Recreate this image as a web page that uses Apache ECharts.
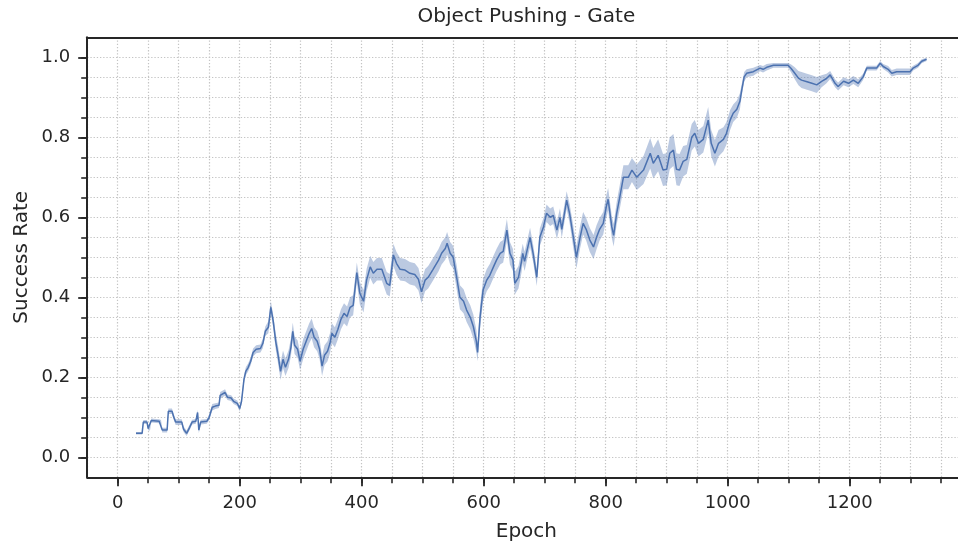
<!DOCTYPE html>
<html>
<head>
<meta charset="utf-8">
<script src="https://cdn.jsdelivr.net/npm/echarts@6/dist/echarts.min.js"></script>
<style>
  html, body { margin: 0; padding: 0; background: #ffffff; }
  #chart { width: 958px; height: 545px; }
</style>
</head>
<body>
<div id="chart"></div>
<script>
// Training curve: mean success rate per epoch with a shaded spread band.
const epochs = [
  30, 40, 42, 48, 50, 53, 55, 68, 71, 73, 81, 83, 89, 92, 95, 105, 108, 113, 118, 122,
  128, 131, 133, 136, 146, 150, 155, 160, 166, 168, 176, 180, 186, 190, 196, 200, 203, 207, 210, 214,
  218, 222, 227, 234, 238, 242, 247, 251, 255, 259, 263, 267, 271, 275, 280, 284, 287, 290, 295, 299,
  304, 309, 314, 318, 322, 327, 331, 335, 339, 344, 348, 351, 356, 361, 366, 371, 376, 381, 386, 392,
  397, 403, 408, 414, 419, 425, 433, 441, 446, 452, 457, 463, 471, 479, 487, 493, 498, 504, 509, 517,
  526, 531, 537, 540, 545, 550, 556, 561, 567, 572, 578, 583, 588, 590, 594, 599, 605, 610, 616, 621,
  627, 632, 638, 643, 648, 651, 657, 662, 664, 667, 676, 681, 687, 692, 698, 703, 709, 714, 720, 725,
  728, 736, 741, 747, 752, 758, 763, 768, 774, 780, 785, 790, 796, 801, 804, 810, 813, 818, 823, 829,
  837, 843, 851, 862, 873, 878, 886, 894, 900, 905, 911, 916, 921, 927, 933, 941, 946, 952, 960, 968,
  973, 979, 985, 993, 998, 1004, 1009, 1015, 1020, 1023, 1027, 1031, 1042, 1053, 1058, 1064, 1075, 1099, 1104, 1110,
  1116, 1121, 1130, 1138, 1146, 1154, 1162, 1168, 1176, 1181, 1190, 1198, 1206, 1214, 1222, 1228, 1244, 1250, 1255, 1263,
  1269, 1277, 1299, 1304, 1312, 1318, 1326
];

const meanRate = [
  0.060, 0.060, 0.088, 0.088, 0.072, 0.072, 0.092, 0.090, 0.088, 0.068, 0.068, 0.115, 0.115, 0.100, 0.088, 0.088, 0.070, 0.060, 0.075, 0.088,
  0.090, 0.112, 0.068, 0.088, 0.090, 0.100, 0.125, 0.128, 0.130, 0.155, 0.162, 0.150, 0.148, 0.140, 0.135, 0.122, 0.140, 0.195, 0.215, 0.225,
  0.240, 0.262, 0.270, 0.272, 0.285, 0.315, 0.325, 0.375, 0.340, 0.290, 0.255, 0.215, 0.245, 0.225, 0.245, 0.275, 0.315, 0.280, 0.270, 0.240,
  0.270, 0.290, 0.310, 0.322, 0.300, 0.290, 0.270, 0.228, 0.255, 0.265, 0.285, 0.310, 0.300, 0.320, 0.345, 0.360, 0.352, 0.375, 0.380, 0.462,
  0.410, 0.390, 0.443, 0.476, 0.460, 0.470, 0.470, 0.435, 0.430, 0.506, 0.485, 0.470, 0.468, 0.460, 0.457, 0.445, 0.414, 0.443, 0.450, 0.470,
  0.493, 0.510, 0.522, 0.535, 0.510, 0.500, 0.447, 0.400, 0.390, 0.368, 0.350, 0.327, 0.290, 0.262, 0.350, 0.418, 0.443, 0.455, 0.476, 0.493,
  0.510, 0.515, 0.568, 0.510, 0.493, 0.435, 0.450, 0.490, 0.510, 0.490, 0.550, 0.510, 0.450, 0.550, 0.576, 0.610, 0.600, 0.605, 0.568, 0.600,
  0.570, 0.643, 0.608, 0.550, 0.500, 0.550, 0.585, 0.570, 0.543, 0.526, 0.550, 0.570, 0.585, 0.627, 0.645, 0.576, 0.555, 0.610, 0.650, 0.700,
  0.700, 0.718, 0.700, 0.718, 0.760, 0.735, 0.755, 0.718, 0.720, 0.760, 0.768, 0.720, 0.718, 0.740, 0.745, 0.800, 0.810, 0.785, 0.795, 0.843,
  0.785, 0.760, 0.785, 0.795, 0.810, 0.843, 0.860, 0.870, 0.890, 0.918, 0.951, 0.960, 0.964, 0.973, 0.970, 0.975, 0.980, 0.980, 0.972, 0.960,
  0.948, 0.943, 0.939, 0.935, 0.931, 0.940, 0.947, 0.956, 0.935, 0.927, 0.940, 0.935, 0.943, 0.935, 0.951, 0.973, 0.973, 0.985, 0.977, 0.970,
  0.960, 0.964, 0.964, 0.973, 0.980, 0.990, 0.995
];

// Half-width of the shaded band around the mean.
const spread = [
  0.003, 0.003, 0.005, 0.005, 0.005, 0.005, 0.005, 0.005, 0.005, 0.006, 0.006, 0.007, 0.007, 0.007, 0.007, 0.007, 0.007, 0.007, 0.007, 0.006,
  0.006, 0.006, 0.008, 0.006, 0.006, 0.007, 0.008, 0.007, 0.007, 0.008, 0.008, 0.007, 0.007, 0.007, 0.007, 0.007, 0.008, 0.010, 0.010, 0.010,
  0.010, 0.010, 0.010, 0.010, 0.012, 0.012, 0.015, 0.016, 0.016, 0.020, 0.022, 0.022, 0.022, 0.022, 0.022, 0.022, 0.022, 0.022, 0.022, 0.022,
  0.025, 0.025, 0.025, 0.025, 0.025, 0.025, 0.025, 0.025, 0.025, 0.025, 0.025, 0.025, 0.025, 0.025, 0.025, 0.025, 0.025, 0.025, 0.025, 0.025,
  0.028, 0.028, 0.028, 0.028, 0.028, 0.028, 0.028, 0.028, 0.028, 0.028, 0.028, 0.028, 0.028, 0.028, 0.028, 0.028, 0.028, 0.028, 0.028, 0.028,
  0.028, 0.028, 0.028, 0.028, 0.028, 0.028, 0.030, 0.030, 0.030, 0.030, 0.030, 0.030, 0.028, 0.022, 0.028, 0.028, 0.028, 0.028, 0.028, 0.028,
  0.028, 0.028, 0.028, 0.028, 0.028, 0.028, 0.028, 0.028, 0.024, 0.024, 0.024, 0.022, 0.022, 0.022, 0.022, 0.022, 0.022, 0.022, 0.022, 0.022,
  0.022, 0.022, 0.024, 0.028, 0.028, 0.028, 0.028, 0.028, 0.030, 0.030, 0.030, 0.028, 0.028, 0.028, 0.028, 0.028, 0.028, 0.028, 0.030, 0.030,
  0.030, 0.030, 0.032, 0.035, 0.038, 0.038, 0.040, 0.040, 0.040, 0.040, 0.040, 0.040, 0.040, 0.038, 0.036, 0.033, 0.033, 0.033, 0.033, 0.033,
  0.033, 0.033, 0.033, 0.030, 0.028, 0.025, 0.022, 0.022, 0.020, 0.015, 0.012, 0.010, 0.010, 0.008, 0.008, 0.008, 0.006, 0.006, 0.010, 0.015,
  0.018, 0.020, 0.020, 0.020, 0.020, 0.015, 0.012, 0.010, 0.010, 0.010, 0.010, 0.010, 0.010, 0.010, 0.008, 0.006, 0.006, 0.006, 0.006, 0.008,
  0.008, 0.008, 0.008, 0.006, 0.006, 0.005, 0.004
];

const xTickLabels = [0, 200, 400, 600, 800, 1000, 1200];
const yTickLabels = [0.0, 0.2, 0.4, 0.6, 0.8, 1.0];
const xMinorStep = 50;
const yMinorStep = 0.05;
const xView = [-50, 1390];
const yView = [-0.05, 1.05];

// Pixel layout of the plotting area.
const PX0 = 117.7, KX = 0.61;   // pixel of epoch 0, pixels per epoch
const PY0 = 457.3, KY = 400;    // pixel of rate 0, pixels per unit rate
const gx = v => PX0 + v * KX;
const gy = v => PY0 - v * KY;

const INK = '#262626';
const GRID_COLOR = '#c4c4c4';
const LINE_BLUE = '#4c72b0';
const BAND_FILL = 'rgba(76,114,176,0.38)';
const FONT = '"DejaVu Sans", sans-serif';

const bandRows = meanRate.map((m, i) => [epochs[i], m - spread[i], m + spread[i]]);
const meanPts = meanRate.map((m, i) => [epochs[i], m]);

const xMinorMax = Math.floor(xView[1] / xMinorStep) * xMinorStep;

const mainGrid = {
  left: gx(xView[0]), top: gy(yView[1]),
  width: (xView[1] - xView[0]) * KX, height: (yView[1] - yView[0]) * KY,
  containLabel: false, outerBoundsMode: 'none'
};
const xMinorGrid = {
  left: gx(0), top: gy(yView[1]),
  width: xMinorMax * KX, height: (yView[1] - yView[0]) * KY,
  containLabel: false, outerBoundsMode: 'none'
};
const xMajorGrid = {
  left: gx(xTickLabels[0]), top: gy(yView[1]),
  width: (xTickLabels[xTickLabels.length - 1] - xTickLabels[0]) * KX, height: (yView[1] - yView[0]) * KY,
  containLabel: false, outerBoundsMode: 'none'
};
const yGrid = {
  left: gx(xView[0]), top: gy(yTickLabels[yTickLabels.length - 1]),
  width: (xView[1] - xView[0]) * KX,
  height: (yTickLabels[yTickLabels.length - 1] - yTickLabels[0]) * KY,
  containLabel: false, outerBoundsMode: 'none'
};

const dotted = { color: GRID_COLOR, width: 1.2, type: [1.3, 1.9] };
const spine = { color: INK, width: 2 };

// Band drawn as one polygon: upper edge forward, lower edge backward.
function renderBand(params, api) {
  if (params.dataIndex !== 0) return null;
  const pts = [];
  for (let i = 0; i < bandRows.length; i++) pts.push(api.coord([bandRows[i][0], bandRows[i][2]]));
  for (let i = bandRows.length - 1; i >= 0; i--) pts.push(api.coord([bandRows[i][0], bandRows[i][1]]));
  return {
    type: 'polygon',
    shape: { points: pts },
    style: { fill: BAND_FILL, stroke: null }
  };
}

const chart = echarts.init(document.getElementById('chart'), null, { renderer: 'canvas' });
chart.setOption({
  animation: false,
  backgroundColor: '#ffffff',
  textStyle: { fontFamily: FONT },
  grid: [mainGrid, xMinorGrid, xMajorGrid, yGrid],
  graphic: [{
    type: 'text',
    x: gx((xView[0] + xView[1]) / 2),
    y: 17,
    style: {
      text: 'Object Pushing - Gate',
      fontSize: 20, fontFamily: FONT, fill: INK,
      align: 'center', verticalAlign: 'middle'
    }
  }],
  xAxis: [
    {
      gridIndex: 0, type: 'value', min: xView[0], max: xView[1], interval: xMinorStep,
      axisLine: { show: true, onZero: false, lineStyle: spine },
      axisTick: { show: false }, axisLabel: { show: false },
      splitLine: { show: true, lineStyle: dotted },
      name: 'Epoch', nameLocation: 'middle', nameGap: 44,
      nameTextStyle: { fontSize: 20, color: INK, fontFamily: FONT }
    },
    {
      gridIndex: 0, type: 'value', position: 'top', min: xView[0], max: xView[1], interval: xMinorStep,
      axisLine: { show: true, onZero: false, lineStyle: spine },
      axisTick: { show: false }, axisLabel: { show: false }, splitLine: { show: false }
    },
    {
      gridIndex: 1, type: 'value', min: 0, max: xMinorMax, interval: xMinorStep,
      axisLine: { show: false, onZero: false },
      axisTick: { show: true, length: 6, lineStyle: { color: INK, width: 1.6 } },
      axisLabel: { show: false }, splitLine: { show: false }
    },
    {
      gridIndex: 2, type: 'value',
      min: xTickLabels[0], max: xTickLabels[xTickLabels.length - 1],
      interval: xTickLabels[1] - xTickLabels[0],
      axisLine: { show: false, onZero: false },
      axisTick: { show: true, length: 9, lineStyle: { color: INK, width: 1.8 } },
      axisLabel: { show: true, fontSize: 18, color: INK, margin: 17, fontFamily: FONT,
                   formatter: v => String(v), showMinLabel: true, showMaxLabel: true },
      splitLine: { show: false }
    },
    { gridIndex: 3, type: 'value', show: false }
  ],
  yAxis: [
    {
      gridIndex: 0, type: 'value', min: yView[0], max: yView[1], interval: yMinorStep,
      axisLine: { show: true, onZero: false, lineStyle: spine },
      axisTick: { show: false }, axisLabel: { show: false },
      splitLine: { show: true, lineStyle: dotted },
      name: 'Success Rate', nameLocation: 'middle', nameGap: 55,
      nameTextStyle: { fontSize: 20, color: INK, fontFamily: FONT }
    },
    { gridIndex: 1, type: 'value', show: false },
    { gridIndex: 2, type: 'value', show: false },
    {
      gridIndex: 3, type: 'value', position: 'left',
      min: yTickLabels[0], max: yTickLabels[yTickLabels.length - 1], interval: yMinorStep,
      axisLine: { show: false, onZero: false },
      axisTick: { show: true, length: 6, lineStyle: { color: INK, width: 1.6 } },
      axisLabel: { show: false }, splitLine: { show: false }
    },
    {
      gridIndex: 3, type: 'value', position: 'left',
      min: yTickLabels[0], max: yTickLabels[yTickLabels.length - 1],
      interval: yTickLabels[1] - yTickLabels[0],
      axisLine: { show: false, onZero: false },
      axisTick: { show: true, length: 9, lineStyle: { color: INK, width: 1.8 } },
      axisLabel: { show: true, fontSize: 18, color: INK, margin: 17, fontFamily: FONT,
                   formatter: v => v.toFixed(1), showMinLabel: true, showMaxLabel: true },
      splitLine: { show: false }
    }
  ],
  series: [
    {
      name: 'band', type: 'custom', xAxisIndex: 0, yAxisIndex: 0,
      data: bandRows, encode: { x: 0, y: [1, 2] },
      renderItem: renderBand, silent: true, clip: true, z: 1
    },
    {
      name: 'mean', type: 'line', xAxisIndex: 0, yAxisIndex: 0,
      data: meanPts, symbol: 'none', z: 2,
      lineStyle: { color: LINE_BLUE, width: 1.5 }
    }
  ]
});
</script>
</body>
</html>
